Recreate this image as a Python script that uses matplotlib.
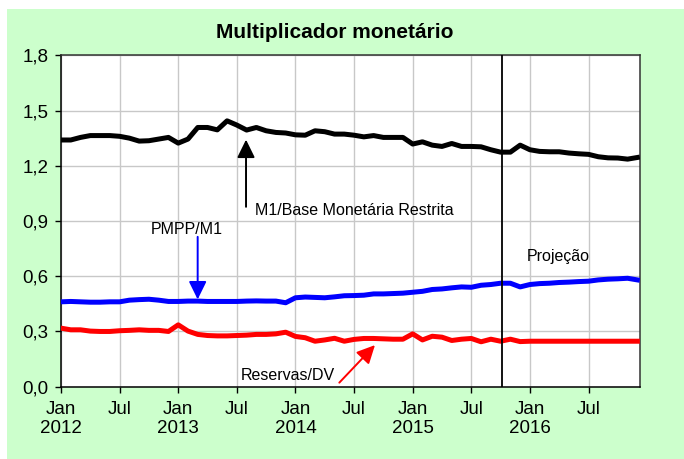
import numpy as np
import matplotlib

matplotlib.use("Agg")
import matplotlib.pyplot as plt
from matplotlib.patches import Rectangle

plt.rcParams["font.family"] = ["Liberation Sans", "DejaVu Sans"]

# monthly values, Jan 2012 .. Dec 2016
m1_base = [
    1.340, 1.340, 1.354, 1.364, 1.364, 1.364, 1.360, 1.350, 1.334, 1.336, 1.345, 1.354,
    1.323, 1.345, 1.408, 1.408, 1.395, 1.444, 1.421, 1.394, 1.408, 1.390, 1.381, 1.378,
    1.368, 1.366, 1.390, 1.385, 1.372, 1.372, 1.366, 1.357, 1.364, 1.354, 1.354, 1.354,
    1.318, 1.330, 1.312, 1.305, 1.321, 1.305, 1.305, 1.303, 1.287, 1.274, 1.274, 1.312,
    1.287, 1.278, 1.276, 1.276, 1.269, 1.265, 1.262, 1.249, 1.243, 1.242, 1.236, 1.245,
]
pmpp_m1 = [
    0.461, 0.463, 0.461, 0.459, 0.459, 0.461, 0.461, 0.470, 0.473, 0.475, 0.470, 0.463,
    0.463, 0.465, 0.465, 0.463, 0.463, 0.463, 0.463, 0.465, 0.466, 0.465, 0.465, 0.456,
    0.483, 0.487, 0.485, 0.483, 0.488, 0.494, 0.495, 0.497, 0.504, 0.504, 0.506, 0.508,
    0.513, 0.518, 0.528, 0.531, 0.537, 0.542, 0.540, 0.551, 0.555, 0.562, 0.562, 0.542,
    0.555, 0.560, 0.562, 0.566, 0.568, 0.571, 0.573, 0.580, 0.584, 0.586, 0.589, 0.580,
]
reservas_dv = [
    0.318, 0.309, 0.309, 0.302, 0.300, 0.300, 0.304, 0.306, 0.309, 0.306, 0.306, 0.300,
    0.336, 0.302, 0.284, 0.278, 0.276, 0.276, 0.278, 0.280, 0.284, 0.284, 0.287, 0.296,
    0.273, 0.266, 0.247, 0.254, 0.263, 0.247, 0.257, 0.262, 0.262, 0.260, 0.258, 0.258,
    0.287, 0.254, 0.274, 0.269, 0.251, 0.258, 0.262, 0.244, 0.258, 0.247, 0.258, 0.245,
    0.247, 0.247, 0.247, 0.247, 0.247, 0.247, 0.247, 0.247, 0.247, 0.247, 0.247, 0.247,
]
months = np.arange(len(m1_base))

x_ticks = [0, 6, 12, 18, 24, 30, 36, 42, 48, 54]
x_labels = ["Jan\n2012", "Jul", "Jan\n2013", "Jul", "Jan\n2014", "Jul",
            "Jan\n2015", "Jul", "Jan\n2016", "Jul"]
y_ticks = [0.0, 0.3, 0.6, 0.9, 1.2, 1.5, 1.8]
y_labels = ["0,0", "0,3", "0,6", "0,9", "1,2", "1,5", "1,8"]
projection_start = 45.1

fig = plt.figure(figsize=(6.84, 4.59), dpi=100)
fig.patch.set_facecolor("white")
bg = Rectangle((7 / 684, 0), 677 / 684, 450 / 459, transform=fig.transFigure,
               facecolor="#CCFFCC", edgecolor="none", zorder=-10)
fig.add_artist(bg)

ax = fig.add_axes([61 / 684, 72.3 / 459, 579.3 / 684, 331.4 / 459])
ax.set_facecolor("white")

ax.plot(months, m1_base, color="black", lw=3.6, zorder=3)
ax.plot(months, pmpp_m1, color="#0000FF", lw=3.6, zorder=3)
ax.plot(months, reservas_dv, color="#FF0000", lw=3.6, zorder=3)

ax.axvline(projection_start, color="black", lw=1.3, zorder=4)

ax.set_xlim(0, 59.3)
ax.set_ylim(0, 1.8)
ax.set_xticks(x_ticks, x_labels)
ax.set_yticks(y_ticks, y_labels)
ax.tick_params(axis="x", direction="out", length=4, width=1, pad=6, labelsize=13.5)
ax.tick_params(axis="y", direction="out", length=4, width=1, pad=5, labelsize=13.5)
ax.grid(True, color="#C8C8C8", lw=1)
ax.set_axisbelow(True)
for side in ("top", "right"):
    ax.spines[side].set_color("#333333")
for spine in ax.spines.values():
    spine.set_linewidth(1.1)

fig.text(335 / 684, 1 - 33 / 459, "Multiplicador monetário", ha="center", va="center",
         fontsize=15, fontweight="bold")

head = "-|>,head_length=0.55,head_width=0.27"
ax.annotate("", xy=(18.94, 1.342), xytext=(18.94, 0.977),
            arrowprops=dict(arrowstyle=head, color="black", lw=1.4,
                            mutation_scale=20, shrinkA=0, shrinkB=0))
ax.text(19.86, 0.959, "M1/Base Monetária Restrita", fontsize=11.5, va="center", ha="left")

ax.annotate("", xy=(13.99, 0.474), xytext=(13.99, 0.814),
            arrowprops=dict(arrowstyle=head, color="#0000FF", lw=1.4,
                            mutation_scale=20, shrinkA=0, shrinkB=0))
ax.text(9.18, 0.856, "PMPP/M1", fontsize=11.5, va="center", ha="left")

ax.annotate("", xy=(32.14, 0.226), xytext=(28.49, 0.022),
            arrowprops=dict(arrowstyle=head, color="#FF0000", lw=1.4,
                            mutation_scale=20, shrinkA=0, shrinkB=0))
ax.text(18.39, 0.063, "Reservas/DV", fontsize=11.5, va="center", ha="left")

ax.text(50.9, 0.709, "Projeção", fontsize=11.5, va="center", ha="center")

fig.savefig("out.png", dpi=100, facecolor=fig.get_facecolor())
